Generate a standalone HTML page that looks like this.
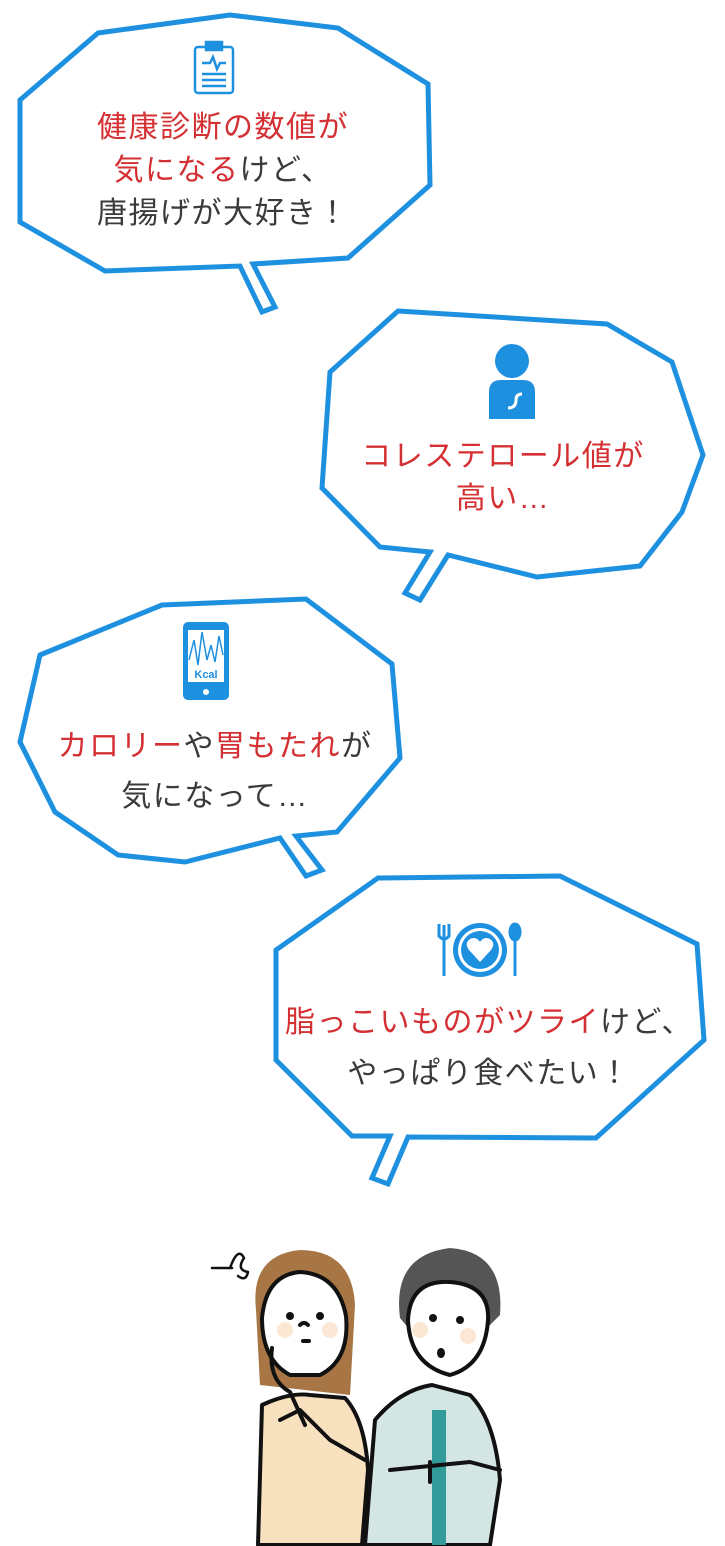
<!DOCTYPE html>
<html><head><meta charset="utf-8"><style>
html,body{margin:0;padding:0;background:#fff}
body{width:725px;height:1546px;position:relative;overflow:hidden;font-family:"Liberation Sans","Noto Sans CJK JP",sans-serif}
.t{position:absolute;text-align:center;font-size:30px;line-height:43px;letter-spacing:1.5px;color:#3a3a3a;white-space:nowrap}
.r{color:#d42f32}
</style></head><body>
<svg width="725" height="1546" style="position:absolute;left:0;top:0">
<g fill="#fff" stroke="#1e90e0" stroke-width="5" stroke-linejoin="miter">
<polygon points="98,33 230,15 338,28 428,84 430,185 348,258 253,264 275,307 262,312 240,266 105,271 20,222 20,100"/>
<polygon points="398,311 607,324 672,362 703,455 682,512 640,566 537,577 448,555 420,600 405,593 430,552 380,547 322,488 330,372"/>
<polygon points="162,605 306,599 392,664 400,758 337,832 296,836 322,870 306,876 280,838 185,862 118,855 55,812 20,742 40,655"/>
<polygon points="378,878 560,876 697,944 704,1040 596,1138 408,1137 388,1184 372,1178 390,1136 352,1136 276,1060 276,950"/>
</g>
<g fill="none" stroke="#1e90e0" stroke-width="2.5">
<rect x="195" y="47" width="38" height="46" rx="3"/>
<rect x="206" y="42" width="16" height="8" fill="#1e90e0"/>
<polyline points="202,63 210,63 213,57 217,69 220,63 226,63"/>
<line x1="202" y1="74" x2="226" y2="74"/><line x1="202" y1="80" x2="226" y2="80"/><line x1="202" y1="86" x2="226" y2="86"/>
</g>
<g fill="#1e90e0">
<circle cx="512" cy="361" r="17"/>
<path d="M489,419 L489,392 Q489,380 501,380 L523,380 Q535,380 535,392 L535,419 Z"/>
</g>
<path d="M508,408 q8,0 8,-8 q0,-6 6,-6" stroke="#fff" stroke-width="3" fill="none"/>
<rect x="183" y="622" width="46" height="78" rx="5" fill="#1e90e0"/>
<rect x="188" y="630" width="36" height="52" fill="#fff"/>
<polyline points="189,660 194,640 198,665 202,632 207,660 211,645 215,662 219,636 223,655" fill="none" stroke="#1e90e0" stroke-width="1.5"/>
<text x="206" y="678" font-size="11" font-weight="bold" fill="#1e90e0" text-anchor="middle" font-family="Liberation Sans">Kcal</text>
<circle cx="206" cy="692" r="3" fill="#fff"/>
<circle cx="480" cy="950" r="27" fill="#1e90e0"/>
<circle cx="480" cy="950" r="22" fill="#fff"/>
<circle cx="480" cy="950" r="19" fill="#1e90e0"/>
<path d="M480,962 L469,950 Q464,943 470,939 Q476,936 480,942 Q484,936 490,939 Q496,943 491,950 Z" fill="#fff"/>
<g stroke="#1e90e0" stroke-width="3" fill="#1e90e0">
<line x1="444" y1="925" x2="444" y2="976"/><path d="M439,924 v12 q5,6 10,0 v-12" fill="none"/>
<ellipse cx="515" cy="932" rx="5" ry="8"/><line x1="515" y1="938" x2="515" y2="976"/>
</g>
<g stroke="#111" stroke-width="4" stroke-linecap="round" stroke-linejoin="round">
<path d="M258,1545 L262,1405 Q290,1392 310,1395 L345,1398 Q365,1420 368,1470 L362,1545 Z" fill="#f8e1be"/>
<path d="M256,1310 Q250,1255 300,1250 Q352,1250 355,1305 L350,1395 L260,1385 Z" fill="#a87545" stroke="none"/>
<path d="M262,1318 Q266,1275 300,1272 Q338,1274 346,1316 Q350,1360 320,1375 L290,1375 Q262,1360 262,1318 Z" fill="#fff"/>
<circle cx="285" cy="1330" r="8" fill="#fce7d4" stroke="none"/><circle cx="330" cy="1330" r="8" fill="#fce7d4" stroke="none"/>
<circle cx="290" cy="1316" r="2" fill="#111"/><circle cx="320" cy="1316" r="2" fill="#111"/>
<path d="M300,1325 q4,-4 8,0" fill="none"/><path d="M303,1341 h6" fill="none"/>
<path d="M272,1348 Q268,1380 290,1392 L305,1425" fill="none"/>
<path d="M280,1420 L300,1410 L330,1440 L365,1460" fill="none"/>
<path d="M230,1268 q8,-22 14,-10 q-8,12 4,14 q-2,10 -10,4" fill="none" stroke-width="2.5"/>
<path d="M212,1268 h20" fill="none" stroke-width="2.5"/>
<path d="M365,1545 L375,1420 Q400,1390 432,1385 L470,1395 Q495,1420 500,1480 L490,1545 Z" fill="#d3e6e4"/>
<rect x="432" y="1410" width="14" height="135" fill="#339b9a" stroke="none"/>
<path d="M400,1318 Q392,1255 450,1248 Q505,1252 500,1315 L485,1330 L410,1330 Z" fill="#555" stroke="none"/>
<path d="M408,1320 Q410,1280 450,1282 Q490,1285 488,1320 Q485,1365 450,1375 Q410,1365 408,1320 Z" fill="#fff"/>
<circle cx="420" cy="1330" r="8" fill="#fce7d4" stroke="none"/><circle cx="468" cy="1336" r="8" fill="#fce7d4" stroke="none"/>
<circle cx="433" cy="1318" r="2" fill="#111"/><circle cx="460" cy="1320" r="2" fill="#111"/>
<ellipse cx="441" cy="1353" rx="2" ry="3" fill="none"/>
<path d="M390,1470 L470,1462 L500,1470" fill="none"/>
<path d="M430,1462 v20" fill="none"/>
</g>
</svg>
<div class="t" style="left:23px;top:106px;width:400px"><span class="r">健康診断の数値が</span><br><span class="r">気になる</span>けど、<br>唐揚げが大好き！</div>
<div class="t" style="left:303px;top:436px;width:400px;line-height:42px"><span class="r">コレステロール値が</span><br><span class="r">高い…</span></div>
<div class="t" style="left:15px;top:722px;width:400px;line-height:50px"><span class="r">カロリー</span>や<span class="r">胃もたれ</span>が<br>気になって…</div>
<div class="t" style="left:264px;top:997px;width:450px;line-height:51px"><span class="r">脂っこいものがツライ</span>けど、<br>やっぱり食べたい！</div>
</body></html>
